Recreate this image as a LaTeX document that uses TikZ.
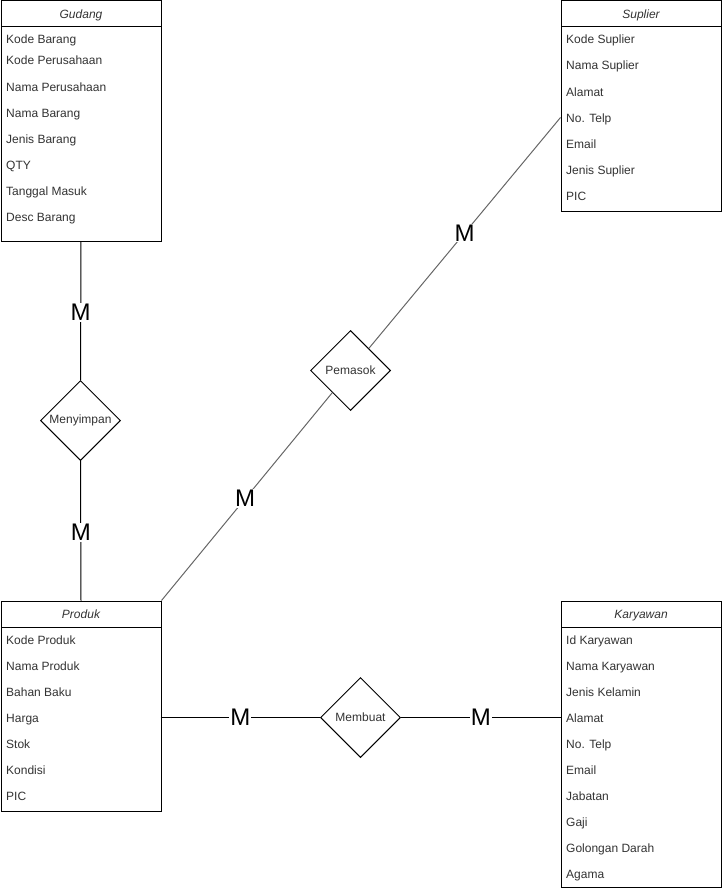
\documentclass[tikz,border=0pt]{standalone}
\usepackage{fontspec}
\setmainfont{Liberation Sans}
\usetikzlibrary{shapes.geometric}
\definecolor{txt}{HTML}{333333}
\definecolor{grayline}{HTML}{666666}
\begin{document}
\begin{tikzpicture}[x=1pt,y=-1pt,
  entbox/.style={draw=black,line width=1pt,fill=white,minimum width=160pt,inner sep=0pt,anchor=north west},
  headbox/.style={entbox,minimum height=26pt,text height=11pt,text depth=2.6pt,font=\fontsize{12}{14}\selectfont\itshape,text=txt},
  attr/.style={anchor=west,inner sep=0pt,text height=8.6pt,text depth=2.6pt,font=\fontsize{12}{14}\selectfont,text=txt},
  rel/.style={draw=black,line width=1pt,fill=white,shape=diamond,aspect=1,minimum width=80pt,minimum height=80pt,inner sep=0pt,font=\fontsize{12}{14}\selectfont,text=txt},
  conn/.style={draw=black,line width=1pt},
  mlab/.style={fill=white,inner sep=1pt,font=\fontsize{24}{26}\selectfont,text=black}]
\useasboundingbox (0,0) rectangle (721,891);
% Gudang
\node[entbox,minimum height=240pt] (gud) at (0.5,0.5) {};
\node[headbox] (gudh) at (0.5,0.5) {Gudang};
\node[attr] (g1) at (6,41) {Kode Barang};
\foreach [count=\i] \t in {Kode Perusahaan,Nama Perusahaan,Nama Barang,Jenis Barang,QTY,Tanggal Masuk,Desc Barang}
  \node[attr] (g\i x) at (6,{62+26*(\i-1)}) {\t};
% Suplier
\node[entbox,minimum height=210pt] (sup) at (560.5,0.5) {};
\node[headbox] (suph) at (560.5,0.5) {Suplier};
\foreach [count=\i] \t in {Kode Suplier,Nama Suplier,Alamat,No. Telp,Email,Jenis Suplier,PIC}
  \node[attr] (s\i) at (566,{41+26*(\i-1)}) {\t};
% Produk
\node[entbox,minimum height=210pt] (prod) at (0.5,600.5) {};
\node[headbox] (prodh) at (0.5,600.5) {Produk};
\foreach [count=\i] \t in {Kode Produk,Nama Produk,Bahan Baku,Harga,Stok,Kondisi,PIC}
  \node[attr] (p\i) at (6,{641+26*(\i-1)}) {\t};
% Karyawan
\node[entbox,minimum height=286pt] (kar) at (560.5,600.5) {};
\node[headbox] (karh) at (560.5,600.5) {Karyawan};
\foreach [count=\i] \t in {Id Karyawan,Nama Karyawan,Jenis Kelamin,Alamat,No. Telp,Email,Jabatan,Gaji,Golongan Darah,Agama}
  \node[attr] (k\i) at (566,{641+26*(\i-1)}) {\t};
% Relationships
\node[rel] (men) at (80.5,420.5) {Menyimpan};
\node[rel] (pem) at (350.5,370.5) {Pemasok};
\node[rel] (mem) at (360.5,717.5) {Membuat};
\coordinate (supc) at (560.5,117.5);
\coordinate (prodr) at (160.5,717.5);
\coordinate (karl) at (560.5,717.5);
% Connectors
\draw[conn] (gud.south) -- node[mlab,pos=0.514] {M} (men.north);
\draw[conn] (men.south) -- node[mlab,pos=0.514] {M} (prod.north);
\draw[conn,draw=grayline] (prod.north east) -- node[mlab,pos=0.49] {M} (pem);
\draw[conn,draw=grayline] (pem) -- node[mlab,pos=0.5] {M} (supc);
\draw[conn] (prodr) -- node[mlab,pos=0.5] {M} (mem.west);
\draw[conn] (mem.east) -- node[mlab,pos=0.5] {M} (karl);
\end{tikzpicture}
\end{document}
